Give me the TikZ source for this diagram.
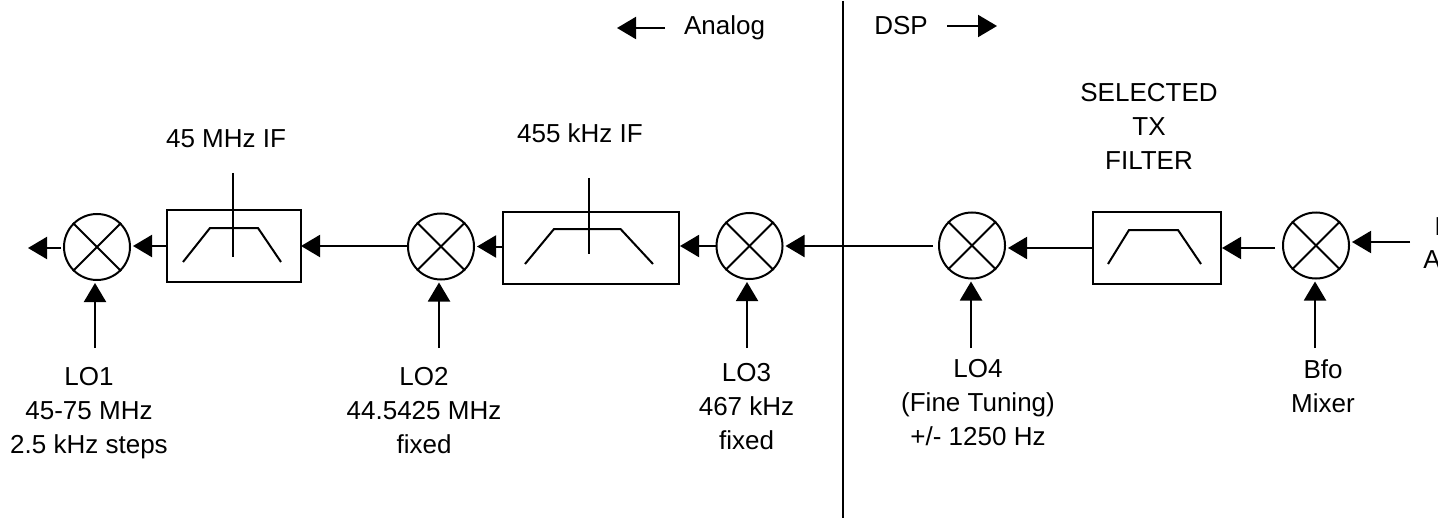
\documentclass[tikz,border=0pt]{standalone}
\usepackage{fontspec}
\setmainfont{Liberation Sans}
\usetikzlibrary{positioning, calc, arrows.meta}

\tikzset{
  mixer/.style={draw, circle, line width=1pt, minimum size=33pt, inner sep=0pt},
  filterbox/.style={draw, rectangle, line width=1pt, inner sep=0pt},
  sig/.style={line width=1pt, -{Triangle[length=9.5pt,width=11pt]}, shorten >=1pt},
  curve/.style={line width=1pt},
  lbl/.style={align=center, font=\fontsize{13}{17}\selectfont, inner sep=0pt}
}

\begin{document}
\begin{tikzpicture}[x=0.5pt, y=-0.5pt]
    \useasboundingbox (0,0) rectangle (1443,518);

    % Mixers
    \node[mixer] (M1) at (97,247) {};
    \node[mixer] (M2) at (441,246.5) {};
    \node[mixer] (M3) at (749.5,246) {};
    \node[mixer] (M4) at (972,245.5) {};
    \node[mixer] (M5) at (1316,245.5) {};
    \foreach \m in {M1,M2,M3,M4,M5} {
        \draw[curve] (\m.45) -- (\m.225);
        \draw[curve] (\m.135) -- (\m.315);
    }

    % Filter boxes
    \node[filterbox, minimum width=67pt, minimum height=36pt] (F1) at (234,246) {};
    \node[filterbox, minimum width=88pt, minimum height=36pt] (F2) at (591,248) {};
    \node[filterbox, minimum width=64pt, minimum height=36pt] (F3) at (1157,248) {};

    % Filter shapes
    \draw[curve] (183,262) -- (210,228) -- (258,228) -- (281,262);
    \draw[curve] (233,173) -- (233,257);
    \draw[curve] (525,264) -- (554,229) -- (620.5,229) -- (653,264);
    \draw[curve] (589,178) -- (589,254);
    \draw[curve] (1108,264) -- (1129,230) -- (1178,230) -- (1201,264);

    % Signal path
    \coordinate (OUT) at (26,248);
    \coordinate (IN) at (1410,242);
    \draw[sig, shorten <=1pt] (OUT -| M1.west) -- (OUT);
    \draw[sig] (F1.west) -- (F1.west -| M1.east);
    \draw[sig, shorten >=-0.5pt] (M2.west |- F1.east) -- (F1.east);
    \draw[sig] (F2.west |- M2.east) -- (M2.east);
    \draw[sig, shorten >=0pt] (M3.west) -- (M3.west -| F2.east);
    \draw[sig, shorten <=2.5pt] (M4.west |- M3.west) -- (M3.east);
    \draw[sig] (F3.west) -- (F3.west -| M4.east);
    \draw[sig, shorten <=3.5pt, shorten >=0pt] (M5.west |- F3.east) -- (F3.east);
    \draw[sig] (IN) -- (IN -| M5.east);

    % Local oscillator labels
    \node[lbl] (L1) at (89,413) {LO1\\45-75 MHz\\2.5 kHz steps};
    \node[lbl] (L2) at (424,411) {LO2\\44.5425 MHz\\fixed};
    \node[lbl] (L3) at (746.5,407) {LO3\\467 kHz\\fixed};
    \node[lbl] (L4) at (978,403) {LO4\\(Fine Tuning)\\+/- 1250 Hz};
    \node[lbl] (L5) at (1323,386) {Bfo\\Mixer};
    \coordinate (A1) at (95,348);
    \coordinate (A2) at (439,348);
    \coordinate (A3) at (747,348);
    \coordinate (A4) at (971,348);
    \coordinate (A5) at (1315,348);
    \draw[sig] (A1) -- (A1 |- M1.south);
    \draw[sig] (A2) -- (A2 |- M2.south);
    \draw[sig] (A3) -- (A3 |- M3.south);
    \draw[sig] (A4) -- (A4 |- M4.south);
    \draw[sig] (A5) -- (A5 |- M5.south);

    % Filter labels
    \node[lbl, anchor=base] (IF1) at (226,148) {45 MHz IF};
    \node[lbl, anchor=base] (IF2) at (580,143) {455 kHz IF};
    \node[lbl] (TX) at (1149,126) {SELECTED\\TX\\FILTER};

    % Divider
    \coordinate (D1) at (843,1);
    \coordinate (D2) at (843,518);
    \draw[line width=1pt] (D1) -- (D2);
    \node[lbl, anchor=base] (AN) at (724.5,35) {Analog};
    \node[lbl, anchor=base] (DS) at (901,35) {DSP};
    \coordinate (AL) at (665,28);
    \coordinate (AR) at (615,28);
    \coordinate (BL) at (947,26);
    \coordinate (BR) at (999,26);
    \draw[sig] (AL) -- (AR);
    \draw[sig] (BL) -- (BR);

    % Cut off at the right edge
    \begin{scope}
        \clip (1400,200) rectangle (1437.5,290);
        \node[lbl, anchor=base west] (EA) at (1423,268) {A};
        \node[lbl, anchor=base west] (EI) at (1434,235) {I};
    \end{scope}
\end{tikzpicture}
\end{document}
